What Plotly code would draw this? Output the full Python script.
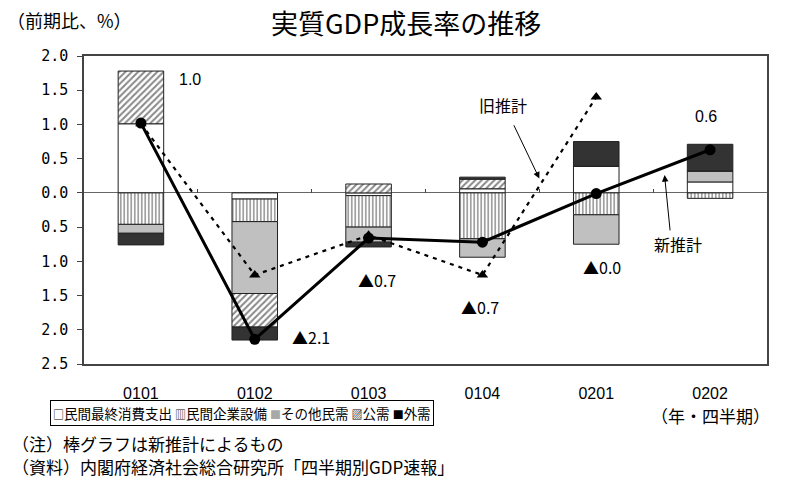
import plotly.graph_objects as go

# ---- data ----
quarters = ["0101", "0102", "0103", "0104", "0201", "0202"]
consumption = [1.01, -0.09, -0.04, 0.06, 0.39, 0.16]      # 民間最終消費支出
capex = [-0.46, -0.33, -0.46, -0.67, -0.32, -0.08]         # 民間企業設備
other_private = [-0.13, -1.05, -0.22, -0.27, -0.43, 0.16]  # その他民需
public = [0.77, -0.49, 0.13, 0.14, 0.0, 0.0]               # 公需
external = [-0.17, -0.19, -0.07, 0.03, 0.36, 0.39]         # 外需
new_est = [1.02, -2.14, -0.66, -0.72, -0.01, 0.63]         # 新推計
old_est = [1.01, -1.20, -0.62, -1.20, 1.40, None]          # 旧推計
y_tickvals = [2.0, 1.5, 1.0, 0.5, 0.0, -0.5, -1.0, -1.5, -2.0, -2.5]
y_ticktext = ["2.0", "1.5", "1.0", "0.5", "0.0", "0.5", "1.0", "1.5", "2.0", "2.5"]
boundaries = [0.5, 1.5, 2.5, 3.5, 4.5]

JP = "Noto Sans CJK JP"
NUM = "Liberation Sans"
BW = 0.40
edge = dict(color="#222222", width=1)

fig = go.Figure()
fig.add_trace(go.Bar(x=quarters, y=consumption, name="民間最終消費支出", width=BW,
                     marker=dict(color="white", line=edge)))
fig.add_trace(go.Bar(x=quarters, y=capex, name="民間企業設備", width=BW,
                     marker=dict(color="white", line=edge,
                                 pattern=dict(shape="|", fgcolor="#111111", bgcolor="white",
                                              size=3.5, solidity=0.4))))
fig.add_trace(go.Bar(x=quarters, y=other_private, name="その他民需", width=BW,
                     marker=dict(color="#c0c0c0", line=edge)))
fig.add_trace(go.Bar(x=quarters, y=public, name="公需", width=BW,
                     marker=dict(color="white", line=edge,
                                 pattern=dict(shape="/", fgcolor="#111111", bgcolor="white",
                                              size=4.5, solidity=0.45))))
fig.add_trace(go.Bar(x=quarters, y=external, name="外需", width=BW,
                     marker=dict(color="#333333", line=edge)))

fig.add_trace(go.Scatter(x=quarters, y=old_est, name="旧推計", mode="lines+markers",
                         line=dict(color="black", width=2.2, dash="4px,5px"),
                         marker=dict(symbol="triangle-up", size=10, color="black")))
fig.add_trace(go.Scatter(x=quarters, y=new_est, name="新推計", mode="lines+markers",
                         line=dict(color="black", width=3),
                         marker=dict(symbol="circle", size=11, color="black")))

# invisible helper trace so the zero-line tick axis is drawn
fig.add_trace(go.Scatter(x=[-0.5, 5.5], y=[0, 0], xaxis="x2", yaxis="y", mode="lines",
                         line=dict(width=0), hoverinfo="skip", showlegend=False))

annos = []
def txt(x, y, s, size=15, font=NUM, xref="x", yref="y", xanchor="center", yanchor="middle"):
    annos.append(dict(x=x, y=y, text=s, xref=xref, yref=yref, showarrow=False,
                      xanchor=xanchor, yanchor=yanchor,
                      font=dict(family=font, size=size, color="black")))

# value labels
txt(0.43, 1.65, "1.0", size=16)
txt(1.49, -2.10, "▲2.1", size=16, font=JP)
txt(2.07, -1.27, "▲0.7", size=16, font=JP)
txt(2.98, -1.66, "▲0.7", size=16, font=JP)
txt(4.05, -1.08, "▲0.0", size=16, font=JP)
txt(4.96, 1.11, "0.6", size=16)
txt(3.18, 1.28, "旧推計", size=16, font=JP)
txt(4.72, -0.74, "新推計", size=16, font=JP)

# arrows
annos.append(dict(x=3.50, y=0.21, ax=3.27, ay=1.01, axref="x", ayref="y", xref="x", yref="y",
                  text="", showarrow=True, arrowhead=2, arrowsize=1.3, arrowwidth=1,
                  arrowcolor="black"))
annos.append(dict(x=4.60, y=0.26, ax=4.65, ay=-0.57, axref="x", ayref="y", xref="x", yref="y",
                  text="", showarrow=True, arrowhead=2, arrowsize=1.3, arrowwidth=1,
                  arrowcolor="black"))

# titles / notes
txt(0.4714, 1.11, "実質GDP成長率の推移", size=27, font=JP, xref="paper", yref="paper")
txt(-0.1157, 1.117, "（前期比、%）", size=18, font=JP, xref="paper", yref="paper", xanchor="left")
txt(0.918, -0.168, "（年・四半期）", size=17, font=JP, xref="paper", yref="paper")
txt(-0.1084, -0.2565, "（注）棒グラフは新推計によるもの", size=17, font=JP,
    xref="paper", yref="paper", xanchor="left")
txt(-0.1084, -0.334, "（資料）内閣府経済社会総合研究所「四半期別GDP速報」", size=17, font=JP,
    xref="paper", yref="paper", xanchor="left")

legend_text = ("<span style='font-size:11px'>□</span>民間最終消費支出 "
               "<span style='font-size:11px'>▥</span>民間企業設備 "
               "<span style='font-size:11px;color:#a8a8a8'>■</span>その他民需 "
               "<span style='font-size:11px'>▨</span>公需 "
               "<span style='font-size:11px'>■</span>外需")
annos.append(dict(x=0.2313, y=-0.159, xref="paper", yref="paper", text=legend_text,
                  showarrow=False, xanchor="center", yanchor="middle",
                  font=dict(family=JP, size=13.5, color="black"),
                  bordercolor="black", borderwidth=1, borderpad=2, bgcolor="white"))

fig.update_layout(
    width=787, height=479,
    margin=dict(l=84, r=20, t=56, b=115),
    barmode="relative",
    showlegend=False,
    plot_bgcolor="white", paper_bgcolor="white",
    annotations=annos,
    xaxis=dict(type="category", range=[-0.5, 5.5], showline=True, mirror=True,
               linecolor="#444444", linewidth=1.5, ticks="", showgrid=False,
               tickfont=dict(family=NUM, size=16, color="black"), ticklabelstandoff=14),
    xaxis2=dict(overlaying="x", anchor="free", position=0.556, range=[-0.5, 5.5],
                tickvals=boundaries, ticks="inside", ticklen=4, tickwidth=1,
                tickcolor="#444444", showticklabels=False, showline=False,
                showgrid=False, zeroline=False),
    yaxis=dict(range=[-2.5, 2.0], tickvals=y_tickvals, ticktext=y_ticktext,
               showline=True, mirror=True, linecolor="#444444", linewidth=1.5,
               ticks="outside", ticklen=5, tickcolor="#444444", showgrid=False,
               zeroline=True, zerolinecolor="#666666", zerolinewidth=1,
               tickfont=dict(family="DejaVu Sans Mono", size=15, color="black"),
               ticklabelstandoff=6),
)

fig.write_html("out.html")
